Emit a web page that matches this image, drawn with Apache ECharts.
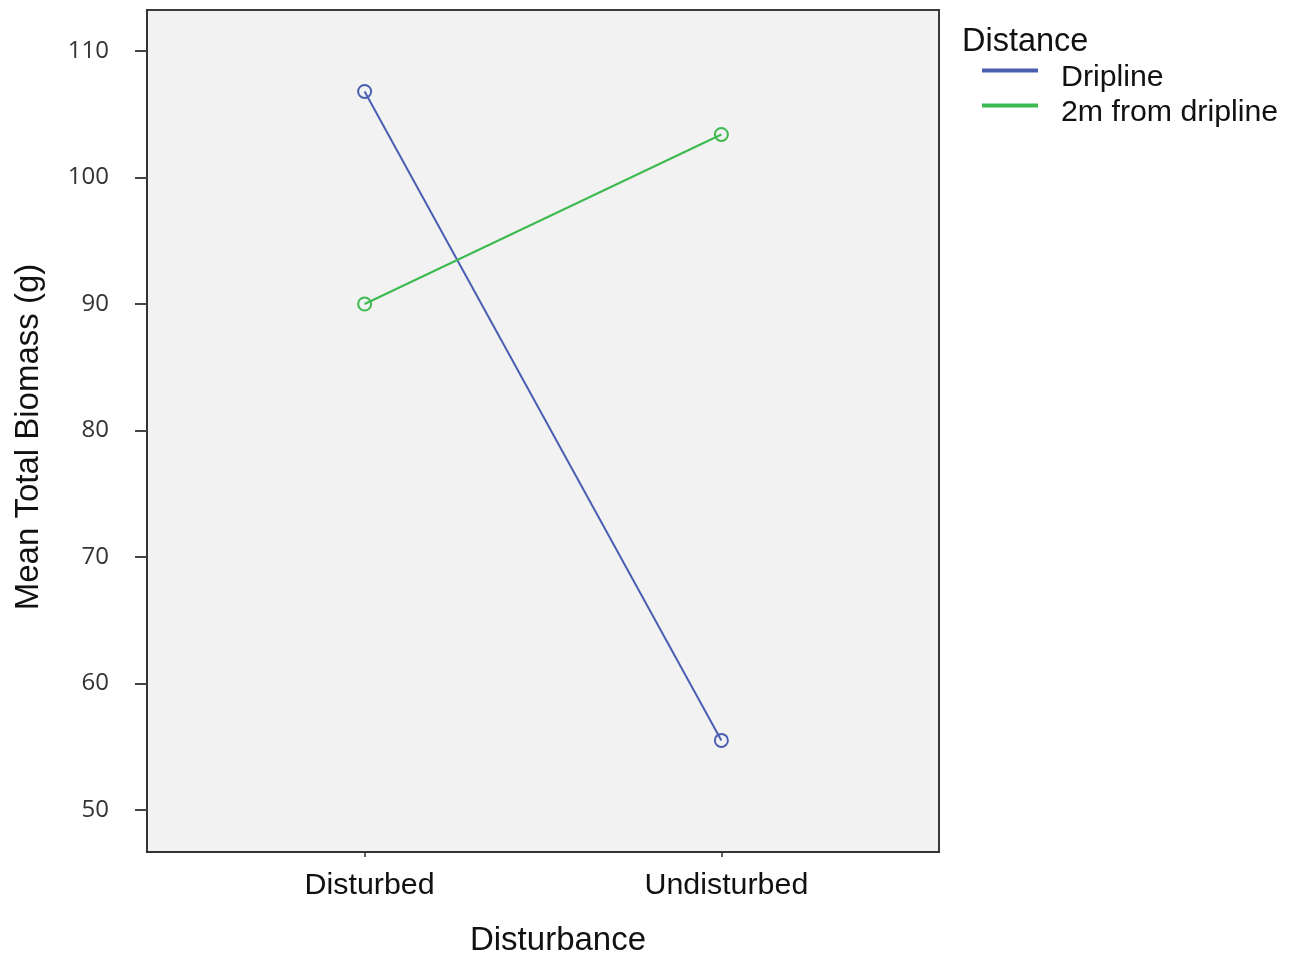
<!DOCTYPE html>
<html>
<head>
<meta charset="utf-8">
<script src="https://cdn.jsdelivr.net/npm/echarts@6/dist/echarts.min.js"></script>
<style>
  html, body { margin: 0; padding: 0; background: #ffffff; }
  #chart { width: 1292px; height: 954px; }
</style>
</head>
<body>
<div id="chart"></div>
<script>
// Categories of the disturbance factor (x axis)
const disturbance = ['Disturbed', 'Undisturbed'];
// Distance groups (legend)
const distanceGroups = ['Dripline', '2m from dripline'];
// Mean total biomass (g) per disturbance level
const driplineMeans = [106.8, 55.5];
const twoMeterMeans = [90.0, 103.4];
// Y axis tick values
const yTicks = [50, 60, 70, 80, 90, 100, 110];

const colors = ['#4a5fb2', '#3cba4f'];
const sans = '"Liberation Sans", Arial, sans-serif';

function toPoints(values) {
  return values.map((v, i) => [i, v]);
}

function lineSeries(name, values, color) {
  return {
    name: name,
    type: 'line',
    data: toPoints(values),
    color: color,
    lineStyle: { width: 2, color: color },
    symbol: 'circle',
    symbolSize: 13,
    itemStyle: { color: 'rgba(0,0,0,0)', borderColor: color, borderWidth: 2 }
  };
}

const chart = echarts.init(document.getElementById('chart'), null, { renderer: 'canvas' });

chart.setOption({
  animation: false,
  backgroundColor: '#ffffff',
  title: {
    text: 'Distance',
    left: 957,
    top: 21,
    textStyle: { fontFamily: sans, fontSize: 32.5, fontWeight: 'normal', color: '#111' }
  },
  legend: {
    orient: 'vertical',
    left: 982,
    top: 48,
    padding: 0,
    icon: 'rect',
    itemWidth: 54,
    itemHeight: 2,
    itemGap: -10,
    data: distanceGroups.map((n, i) => ({ name: n, itemStyle: { color: colors[i] } })),
    // label text sits a little below the key line
    formatter: name => '{t|' + name + '}',
    textStyle: {
      rich: {
        t: { fontFamily: sans, fontSize: 30.3, color: '#111', lineHeight: 30, padding: [15, 0, 0, 19] }
      }
    }
  },
  grid: {
    left: 147,
    top: 10,
    right: 353,
    bottom: 102,
    outerBoundsMode: 'none',
    show: true,
    backgroundColor: '#f2f2f2',
    borderColor: '#3a3a3a',
    borderWidth: 2
  },
  xAxis: {
    type: 'value',
    min: -0.61,
    max: 1.61,
    name: 'Disturbance',
    nameLocation: 'middle',
    nameGap: 72,
    nameTextStyle: { fontFamily: sans, fontSize: 33, color: '#111', padding: [0, 0, 0, 30] },
    splitLine: { show: false },
    axisLine: { show: true, onZero: false, lineStyle: { color: '#333', width: 2 } },
    axisTick: { show: true, customValues: [0, 1], length: 5, lineStyle: { color: '#333', width: 1.5 } },
    axisLabel: {
      customValues: [0, 1],
      margin: 19,
      fontFamily: sans,
      fontSize: 30.4,
      color: '#111',
      padding: [0, 0, 0, 10],
      formatter: v => disturbance[Math.round(v)]
    }
  },
  yAxis: {
    type: 'value',
    min: 46.68,
    max: 113.24,
    name: 'Mean Total Biomass (g)',
    nameLocation: 'middle',
    nameGap: 102,
    nameTextStyle: { fontFamily: sans, fontSize: 33, color: '#111', padding: [0, 12, 0, 0] },
    splitLine: { show: false },
    axisLine: { show: true, onZero: false, lineStyle: { color: '#333', width: 2 } },
    axisTick: { show: true, customValues: yTicks, length: 12, lineStyle: { color: '#444', width: 2 } },
    axisLabel: {
      customValues: yTicks,
      margin: 38,
      fontFamily: '"Open Sans", sans-serif',
      fontSize: 24,
      color: '#333'
    }
  },
  series: [
    lineSeries(distanceGroups[0], driplineMeans, colors[0]),
    lineSeries(distanceGroups[1], twoMeterMeans, colors[1])
  ]
});
</script>
</body>
</html>
